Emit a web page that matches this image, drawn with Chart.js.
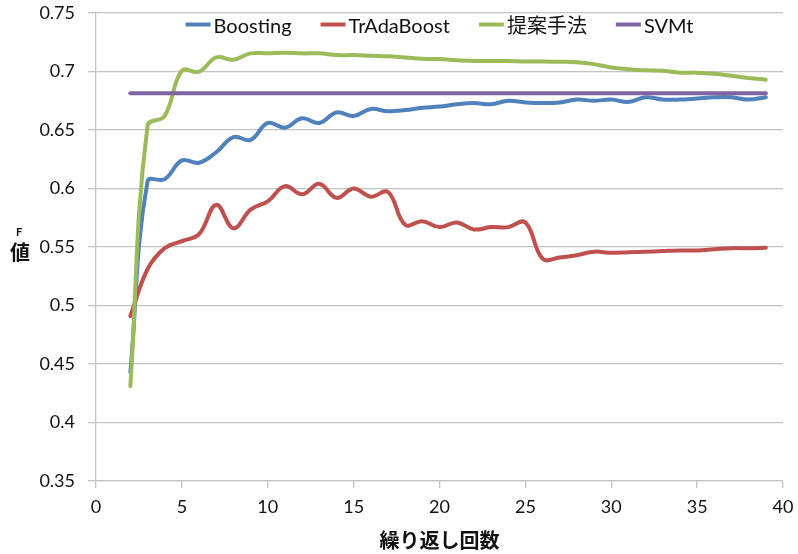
<!DOCTYPE html>
<html>
<head>
<meta charset="utf-8">
<title>繰り返し回数とF値</title>
<script src="https://cdn.jsdelivr.net/npm/chart.js@4/dist/chart.umd.min.js"></script>
<style>
  html, body { margin: 0; padding: 0; background: #ffffff; }
  #wrap { width: 798px; height: 554px; }
</style>
</head>
<body>
<div id="wrap"><canvas id="chart" width="798" height="554"></canvas></div>
<script>
// Iteration counts (x axis)
const iterations = [2, 3, 4, 5, 6, 7, 8, 9, 10, 11, 12, 13, 14, 15, 16, 17, 18, 19, 20,
  21, 22, 23, 24, 25, 26, 27, 28, 29, 30, 31, 32, 33, 34, 35, 36, 37, 38, 39];

// F-measure per iteration for each method
const boosting = [0.443, 0.606, 0.608, 0.624, 0.622, 0.631, 0.644, 0.6415, 0.656, 0.652,
  0.660, 0.656, 0.665, 0.662, 0.668, 0.666, 0.667, 0.669, 0.670, 0.672,
  0.673, 0.672, 0.675, 0.6735, 0.673, 0.6735, 0.676, 0.675, 0.676, 0.674,
  0.678, 0.676, 0.676, 0.677, 0.678, 0.678, 0.676, 0.678];

const trAdaBoost = [0.491, 0.531, 0.549, 0.555, 0.561, 0.586, 0.566, 0.582, 0.589, 0.602,
  0.595, 0.604, 0.592, 0.600, 0.593, 0.597, 0.569, 0.572, 0.567, 0.571,
  0.565, 0.567, 0.567, 0.571, 0.540, 0.541, 0.543, 0.546, 0.545, 0.5456,
  0.546, 0.5465, 0.547, 0.547, 0.548, 0.549, 0.549, 0.5494];

const proposed = [0.431, 0.6535, 0.662, 0.7006, 0.6998, 0.712, 0.710, 0.7155, 0.7155, 0.716,
  0.7155, 0.7155, 0.714, 0.714, 0.7135, 0.713, 0.712, 0.711, 0.7106, 0.7097,
  0.709, 0.709, 0.709, 0.7086, 0.7086, 0.7083, 0.708, 0.7063, 0.7035, 0.702,
  0.701, 0.7006, 0.699, 0.699, 0.698, 0.6963, 0.6944, 0.693];

const svmt = [0.6815, 0.6815, 0.6815, 0.6815, 0.6815, 0.6815, 0.6815, 0.6815, 0.6815, 0.6815,
  0.6815, 0.6815, 0.6815, 0.6815, 0.6815, 0.6815, 0.6815, 0.6815, 0.6815, 0.6815,
  0.6815, 0.6815, 0.6815, 0.6815, 0.6815, 0.6815, 0.6815, 0.6815, 0.6815, 0.6815,
  0.6815, 0.6815, 0.6815, 0.6815, 0.6815, 0.6815, 0.6815, 0.6815];

const seriesNames = ['Boosting', 'TrAdaBoost', '提案手法', 'SVMt'];
const seriesColors = ['#4f81bd', '#c0504d', '#9bbb59', '#8064a2'];
const xTitle = '繰り返し回数';
const yTitleTop = 'F';
const yTitleBottom = '値';

const LATIN = 'Lato, "Noto Sans CJK JP", sans-serif';
const CJK = '"Noto Sans CJK JP", sans-serif';
const GRID = '#c3c3c3';

function pts(values) {
  return iterations.map((x, i) => ({ x: x, y: values[i] }));
}

const seriesValues = [boosting, trAdaBoost, proposed, svmt];

const datasets = seriesNames.map((name, i) => ({
  label: name,
  data: pts(seriesValues[i]),
  borderColor: seriesColors[i],
  backgroundColor: seriesColors[i],
  borderWidth: 4,
  borderCapStyle: 'round',
  borderJoinStyle: 'round',
  pointRadius: 0,
  pointHoverRadius: 0,
  tension: 0.4,
  fill: false,
  order: seriesNames.length - i
}));

// Legend laid out in a single row across the top of the plot area
const topLegend = {
  id: 'topLegend',
  afterDraw(chart) {
    const { ctx, chartArea } = chart;
    const sets = chart.data.datasets;
    const sample = 25, gap = 3, spacing = 29;
    ctx.save();
    ctx.font = '20px ' + LATIN;
    const widths = sets.map(d => ctx.measureText(d.label).width);
    let total = 0;
    widths.forEach(w => { total += sample + gap + w; });
    total += spacing * (sets.length - 1);
    let x = (chartArea.left + chartArea.right) / 2 - total / 2;
    const yLine = chartArea.top + 11.5;
    const yText = chartArea.top + 13.5;
    sets.forEach((d, i) => {
      ctx.strokeStyle = d.borderColor;
      ctx.lineWidth = 4;
      ctx.lineCap = 'butt';
      ctx.beginPath();
      ctx.moveTo(x, yLine);
      ctx.lineTo(x + sample, yLine);
      ctx.stroke();
      ctx.fillStyle = '#111111';
      ctx.textAlign = 'left';
      ctx.textBaseline = 'middle';
      ctx.fillText(d.label, x + sample + gap, yText);
      x += sample + gap + widths[i] + spacing;
    });
    ctx.restore();
  }
};

// Vertical stacked y-axis title: "F" above "値"
const stackedYTitle = {
  id: 'stackedYTitle',
  afterDraw(chart) {
    const ctx = chart.ctx;
    ctx.save();
    ctx.fillStyle = '#111111';
    ctx.textAlign = 'center';
    ctx.textBaseline = 'middle';
    ctx.font = 'bold 11px ' + LATIN;
    ctx.fillText(yTitleTop, 19, 232);
    ctx.font = 'bold 20px ' + CJK;
    ctx.fillText(yTitleBottom, 20, 252);
    ctx.restore();
  }
};

new Chart(document.getElementById('chart'), {
  type: 'line',
  data: { datasets: datasets },
  plugins: [topLegend, stackedYTitle],
  options: {
    responsive: false,
    animation: false,
    devicePixelRatio: 1,
    layout: { padding: { left: 0, right: 15, top: 13, bottom: 0 } },
    plugins: {
      legend: { display: false },
      tooltip: { enabled: false }
    },
    scales: {
      x: {
        type: 'linear',
        min: 0,
        max: 40,
        ticks: {
          stepSize: 5,
          color: '#111111',
          font: { family: LATIN, size: 18 },
          padding: 8,
          maxRotation: 0
        },
        grid: {
          drawOnChartArea: false,
          drawTicks: true,
          tickLength: 7,
          color: GRID,
          lineWidth: 1.3
        },
        border: { display: true, color: GRID, width: 1.3 },
        title: {
          display: true,
          text: xTitle,
          color: '#111111',
          font: { family: CJK, size: 20, weight: 'bold' },
          padding: { top: 0, bottom: 2 }
        },
        afterFit(scale) {
          scale.height = 73;
          scale.paddingLeft = 0;
          scale.paddingRight = 0;
        }
      },
      y: {
        min: 0.35,
        max: 0.75,
        ticks: {
          stepSize: 0.05,
          color: '#111111',
          font: { family: LATIN, size: 18 },
          padding: 13,
          callback: (v) => String(Number(Number(v).toFixed(2)))
        },
        grid: {
          drawOnChartArea: true,
          drawTicks: true,
          tickLength: 8,
          color: GRID,
          lineWidth: 1.3
        },
        border: { display: true, color: GRID, width: 1.3 },
        afterFit(scale) {
          scale.width = 96;
          scale.paddingTop = 0;
          scale.paddingBottom = 0;
        }
      }
    }
  }
});
</script>
</body>
</html>
